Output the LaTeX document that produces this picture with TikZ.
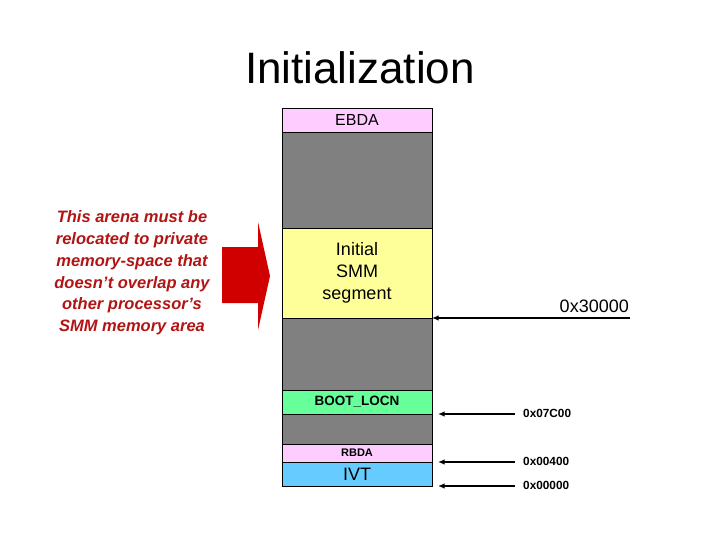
\documentclass[tikz,border=0pt]{standalone}
\usepackage{fontspec}
\setmainfont{Liberation Sans}
\usetikzlibrary{arrows.meta,calc}
\definecolor{segpink}{HTML}{FFCCFF}
\definecolor{seggray}{HTML}{808080}
\definecolor{segyellow}{HTML}{FFFF99}
\definecolor{seggreen}{HTML}{66FF99}
\definecolor{segblue}{HTML}{66CCFF}
\definecolor{notered}{RGB}{178,20,20}
\definecolor{bigred}{RGB}{208,0,0}
\begin{document}
\begin{tikzpicture}[x=1pt,y=-1pt,
  seg/.style={draw=black,line width=0.8pt,minimum width=150pt,inner sep=0pt,outer sep=0pt,anchor=north west},
  addr/.style={line width=2pt,-{Latex[length=6.5pt,width=5.5pt]}},
  biglabel/.style={font=\fontsize{18}{22}\selectfont},
  smalllabel/.style={font=\fontsize{11.8}{13}\selectfont\bfseries}]
\useasboundingbox (0,0) rectangle (720,540);
% title
\node[font=\fontsize{44}{50}\selectfont] (title) at (360,68) {Initialization};
% memory map
\node[seg,fill=segpink,minimum height=24pt,font=\fontsize{16}{18}\selectfont] (ebda) at (282,108) {EBDA};
\node[seg,fill=seggray,minimum height=96pt] (gray1) at (282,132) {};
\node[seg,fill=segyellow,minimum height=90pt,align=center,font=\fontsize{18}{22}\selectfont] (smm) at (282,228) {Initial\\SMM\\segment};
\node[seg,fill=seggray,minimum height=72pt] (gray2) at (282,318) {};
\node[seg,fill=seggreen,minimum height=24pt,font=\fontsize{13.5}{15}\selectfont\bfseries] (boot) at (282,390) {BOOT\_LOCN};
\node[seg,fill=seggray,minimum height=30pt] (gray3) at (282,414) {};
\node[seg,fill=segpink,minimum height=18pt,font=\fontsize{11}{12}\selectfont\bfseries] (rbda) at (282,444) {RBDA};
\node[seg,fill=segblue,minimum height=24pt,font=\fontsize{18}{20}\selectfont] (ivt) at (282,462) {IVT};
% address arrows
\coordinate (c30) at (630,318);
\coordinate (c7c) at (515,414);
\coordinate (c4) at (515,462);
\coordinate (c0) at (515,486);
\draw[addr] (c30) -- (gray2.north east);
\draw[addr] (c7c) -- ($(boot.south east)+(6,0)$);
\draw[addr] (c4) -- ($(rbda.south east)+(6,0)$);
\draw[addr] (c0) -- ($(ivt.south east)+(6,0)$);
\node[biglabel,anchor=base east,inner sep=0pt] (l30) at (629,312) {0x30000};
\node[smalllabel,anchor=base west,inner sep=0pt] (l7c) at (523,417) {0x07C00};
\node[smalllabel,anchor=base west,inner sep=0pt] (l4) at (523,465) {0x00400};
\node[smalllabel,anchor=base west,inner sep=0pt] (l0) at (523,489) {0x00000};
% note
\node[text=notered,align=center,font=\fontsize{16.5}{21.8}\selectfont\bfseries\itshape] (note) at (132,273)
  {This arena must be\\relocated to private\\memory-space that\\doesn’t overlap any\\other processor’s\\SMM memory area};
% block arrow
\fill[bigred] (222,247) -- (258,247) -- (258,222) -- (270,276) -- (258,330) -- (258,303) -- (222,303) -- cycle;
\end{tikzpicture}
\end{document}
